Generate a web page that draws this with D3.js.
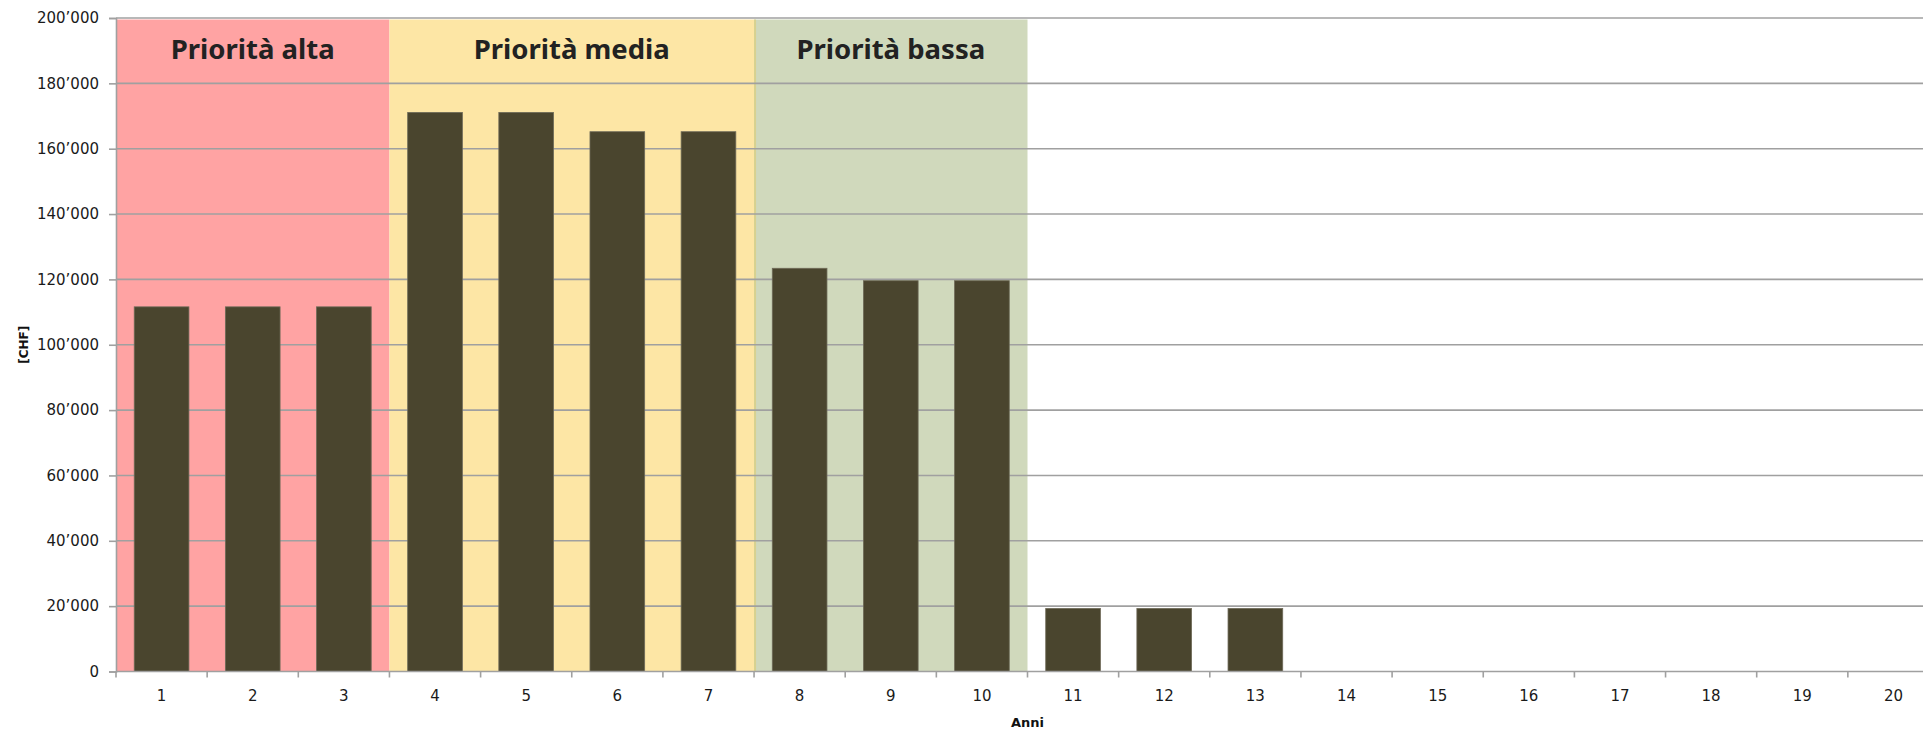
<!DOCTYPE html>
<html>
<head>
<meta charset="utf-8">
<script src="https://cdn.jsdelivr.net/npm/d3@7"></script>
<style>
  html, body { margin: 0; padding: 0; background: #fff; overflow: hidden; }
  svg { display: block; }
</style>
</head>
<body>
<div id="chart"></div>
<script>
// dati
const anni = d3.range(1, 21).map(String);
const costi = [111600, 111600, 111600, 171100, 171100, 165200, 165200, 123400, 119600, 119600,
               19300, 19300, 19300, 0, 0, 0, 0, 0, 0, 0];
const yTicks = [0, 20000, 40000, 60000, 80000, 100000, 120000, 140000, 160000, 180000, 200000];

const prioritaNomi = ["Priorità alta", "Priorità media", "Priorità bassa"];
const prioritaDa = ["1", "4", "8"];
const prioritaA = ["3", "7", "10"];
const prioritaColori = ["#ffa3a3", "#fde6a5", "#d0d9bc"];

const WIDTH = 1923, HEIGHT = 731;
const MARGIN = { top: 18, right: -16, bottom: 59.5, left: 116 };

const fmt = d3.formatLocale({ decimal: ".", thousands: "\u2019", grouping: [3], currency: ["", ""] }).format(",d");

const svg = d3.select("#chart").append("svg")
  .attr("width", WIDTH)
  .attr("height", HEIGHT);

const x = d3.scaleBand()
  .domain(anni)
  .range([MARGIN.left, WIDTH - MARGIN.right])
  .padding(0);

const y = d3.scaleLinear()
  .domain([0, 200000])
  .range([HEIGHT - MARGIN.bottom, MARGIN.top]);

// fasce di priorità
const fasce = svg.append("g");
prioritaNomi.forEach((nome, i) => {
  const x0 = x(prioritaDa[i]);
  const x1 = x(prioritaA[i]) + x.bandwidth();
  fasce.append("rect")
    .attr("x", x0)
    .attr("y", y(200000) + 1.5)
    .attr("width", x1 - x0)
    .attr("height", y(0) - y(200000) - 1.5)
    .attr("fill", prioritaColori[i]);
});
// bordo tra media e bassa
fasce.append("line")
  .attr("x1", x(prioritaDa[2]) + 1).attr("x2", x(prioritaDa[2]) + 1)
  .attr("y1", y(200000) + 1.5).attr("y2", y(0))
  .attr("stroke", "#d8d18f")
  .attr("stroke-width", 2);

// griglia
svg.append("g")
  .selectAll("line")
  .data(yTicks.filter(d => d > 0))
  .join("line")
  .attr("x1", MARGIN.left)
  .attr("x2", WIDTH)
  .attr("y1", d => y(d))
  .attr("y2", d => y(d))
  .attr("stroke", "#a0a0a0")
  .attr("stroke-width", 1.6);

// barre
const barW = x.bandwidth() * 0.6;
svg.append("g")
  .selectAll("rect")
  .data(anni.map((a, i) => ({ anno: a, valore: costi[i] })).filter(d => d.valore > 0))
  .join("rect")
  .attr("x", d => x(d.anno) + (x.bandwidth() - barW) / 2)
  .attr("y", d => y(d.valore))
  .attr("width", barW)
  .attr("height", d => y(0) - y(d.valore))
  .attr("fill", "#4a452e")
  .attr("stroke", "#6e6a58")
  .attr("stroke-width", 0.8);

// titoli delle fasce
svg.append("g")
  .selectAll("text")
  .data(prioritaNomi)
  .join("text")
  .attr("x", (d, i) => (x(prioritaDa[i]) + x(prioritaA[i]) + x.bandwidth()) / 2)
  .attr("y", 59)
  .attr("text-anchor", "middle")
  .attr("font-family", "'Noto Sans', 'Open Sans', sans-serif")
  .attr("font-weight", "bold")
  .attr("font-size", 27.5)
  .attr("fill", "#222")
  .text(d => d);

// asse y
const yAxis = svg.append("g")
  .attr("transform", `translate(${MARGIN.left},0)`)
  .call(d3.axisLeft(y).tickValues(yTicks).tickFormat(fmt).tickSize(7).tickPadding(10));
yAxis.select(".domain").attr("stroke", "#a0a0a0").attr("stroke-width", 1.6);
yAxis.selectAll(".tick line").attr("stroke", "#a0a0a0").attr("stroke-width", 1.6);
yAxis.selectAll(".tick text")
  .attr("font-family", "'DejaVu Sans', Verdana, sans-serif")
  .attr("font-size", 15)
  .attr("fill", "#1a1a1a");

// asse x: linea e tacche ai confini delle categorie
const xAxis = svg.append("g");
xAxis.append("line")
  .attr("x1", MARGIN.left).attr("x2", WIDTH)
  .attr("y1", y(0)).attr("y2", y(0))
  .attr("stroke", "#a0a0a0")
  .attr("stroke-width", 1.6);
xAxis.selectAll("line.tacca")
  .data(anni)
  .join("line")
  .attr("class", "tacca")
  .attr("x1", d => x(d)).attr("x2", d => x(d))
  .attr("y1", y(0)).attr("y2", y(0) + 6)
  .attr("stroke", "#a0a0a0")
  .attr("stroke-width", 1.6);
xAxis.selectAll("text")
  .data(anni)
  .join("text")
  .attr("x", d => x(d) + x.bandwidth() / 2)
  .attr("y", y(0) + 29)
  .attr("text-anchor", "middle")
  .attr("font-family", "'DejaVu Sans', Verdana, sans-serif")
  .attr("font-size", 15)
  .attr("fill", "#1a1a1a")
  .text(d => d);

// titoli degli assi
svg.append("text")
  .attr("x", (MARGIN.left + WIDTH - MARGIN.right) / 2)
  .attr("y", 727)
  .attr("text-anchor", "middle")
  .attr("font-family", "'DejaVu Sans', Verdana, sans-serif")
  .attr("font-weight", "bold")
  .attr("font-size", 13)
  .attr("fill", "#111")
  .text("Anni");

svg.append("text")
  .attr("transform", `translate(28,${(y(0) + y(200000)) / 2}) rotate(-90)`)
  .attr("text-anchor", "middle")
  .attr("font-family", "'DejaVu Sans', Verdana, sans-serif")
  .attr("font-weight", "bold")
  .attr("font-size", 12)
  .attr("fill", "#111")
  .text("[CHF]");
</script>
</body>
</html>
